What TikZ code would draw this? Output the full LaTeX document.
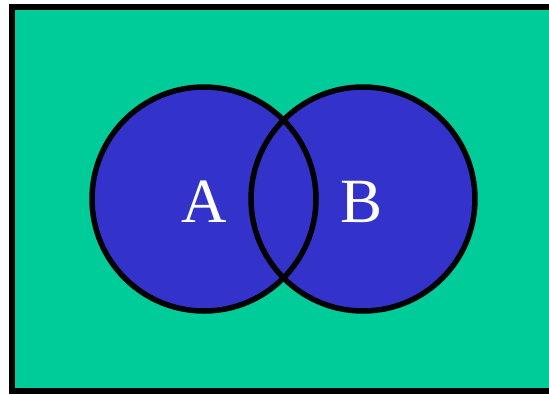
\documentclass[tikz,border=0pt]{standalone}
\usepackage{fontspec}
\setmainfont{Liberation Serif}
\definecolor{venngreen}{RGB}{0,204,153}
\definecolor{vennblue}{RGB}{51,51,204}
\begin{document}
\begin{tikzpicture}[x=1pt, y=-1pt, line width=5.5pt]
  \useasboundingbox (0,0) rectangle (549,394);
  \tikzset{setlabel/.style={text=white, font=\fontsize{63}{63}\selectfont}}
  \draw[fill=venngreen, line width=6pt] (12,7) rectangle (555,391);
  \fill[vennblue] (204,199) circle (112) (363,199) circle (112);
  \draw (204,199) circle (112) (363,199) circle (112);
  \node[setlabel] (A) at (204,202) {A};
  \node[setlabel] (B) at (362,202) {B};
\end{tikzpicture}
\end{document}
